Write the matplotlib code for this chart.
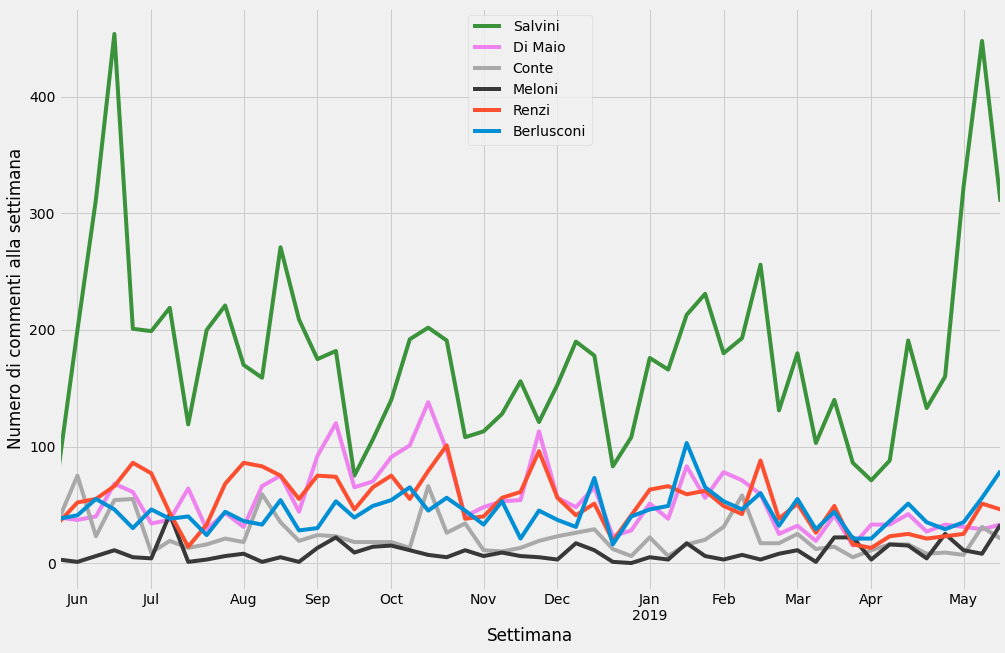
import matplotlib
matplotlib.use("Agg")
import matplotlib.pyplot as plt
import pandas as pd
import numpy as np

plt.style.use("fivethirtyeight")

weeks = pd.date_range("2018-05-28", periods=52, freq="W-MON")

salvini = [84, 200, 312, 454, 201, 199, 219, 119, 200, 221, 170, 159, 271, 209, 175, 182, 75, 106,
           140, 192, 202, 191, 108, 113, 128, 156, 121, 153, 190, 178, 83, 108, 176, 166, 213, 231,
           180, 193, 256, 131, 180, 103, 140, 86, 71, 88, 191, 133, 160, 323, 448, 310]
di_maio = [39, 37, 40, 68, 61, 34, 37, 64, 29, 43, 31, 66, 75, 44, 92, 120, 65, 70,
           91, 101, 138, 97, 40, 48, 53, 54, 113, 56, 48, 65, 23, 28, 51, 38, 83, 56,
           78, 71, 59, 25, 32, 19, 41, 15, 33, 33, 42, 27, 33, 31, 29, 33]
conte = [38, 75, 23, 54, 55, 9, 19, 13, 16, 21, 18, 59, 35, 19, 24, 23, 18, 18,
         18, 13, 66, 26, 34, 11, 10, 13, 19, 23, 26, 29, 12, 6, 22, 6, 16, 20,
         31, 58, 17, 17, 25, 12, 14, 5, 11, 16, 16, 8, 9, 7, 31, 21]
meloni = [3, 1, 6, 11, 5, 4, 42, 1, 3, 6, 8, 1, 5, 1, 13, 22, 9, 14,
          15, 11, 7, 5, 11, 6, 9, 6, 5, 3, 17, 11, 1, 0, 5, 3, 17, 6,
          3, 7, 3, 8, 11, 1, 22, 22, 3, 16, 15, 4, 25, 11, 8, 33]
renzi = [35, 52, 55, 66, 86, 77, 43, 14, 33, 68, 86, 83, 75, 55, 75, 74, 46, 65,
         75, 55, 79, 101, 38, 40, 56, 61, 96, 56, 41, 51, 19, 41, 63, 66, 59, 62,
         49, 42, 88, 38, 51, 26, 49, 16, 13, 23, 25, 21, 23, 25, 51, 46]
berlusconi = [38, 41, 55, 46, 30, 46, 38, 40, 24, 44, 36, 33, 54, 28, 30, 53, 39, 49,
              54, 65, 45, 56, 45, 33, 53, 21, 45, 37, 31, 73, 16, 40, 46, 49, 103, 65,
              53, 46, 60, 32, 55, 29, 44, 21, 21, 36, 51, 35, 29, 35, 56, 79]

names = ["Salvini", "Di Maio", "Conte", "Meloni", "Renzi", "Berlusconi"]
series = [salvini, di_maio, conte, meloni, renzi, berlusconi]
colors = ["#3a923a", "#ee82ee", "#a9a9a9", "#383838", "#fc4f30", "#008fd5"]

W, H, DPI = 1005, 653, 72
fig = plt.figure(figsize=(W / DPI, H / DPI), dpi=DPI)
ax = fig.add_axes([59 / W, 1 - 589.5 / H, (1000.5 - 59) / W, (589.5 - 7.5) / H])

for name, vals, c in zip(names, series, colors):
    ax.plot(weeks, vals, color=c, label=name, linewidth=4)

ax.set_xlim(weeks[0], weeks[-1])

# month ticks at the first week of each month
tick_pos = []
tick_lab = []
seen = set()
for d in weeks:
    key = (d.year, d.month)
    if key not in seen:
        seen.add(key)
        if d == weeks[0]:
            continue
        tick_pos.append(d)
        lab = d.strftime("%b")
        if d.month == 1:
            lab += "\n" + str(d.year)
        tick_lab.append(lab)
ax.set_xticks(tick_pos)
ax.set_xticklabels(tick_lab)
ax.xaxis.set_minor_locator(matplotlib.ticker.NullLocator())

ax.set_xlabel("Settimana")
ax.set_ylabel("Numero di commenti alla settimana")
ax.legend(loc="upper center")

fig.savefig("out.png", dpi=DPI, facecolor=fig.get_facecolor())
